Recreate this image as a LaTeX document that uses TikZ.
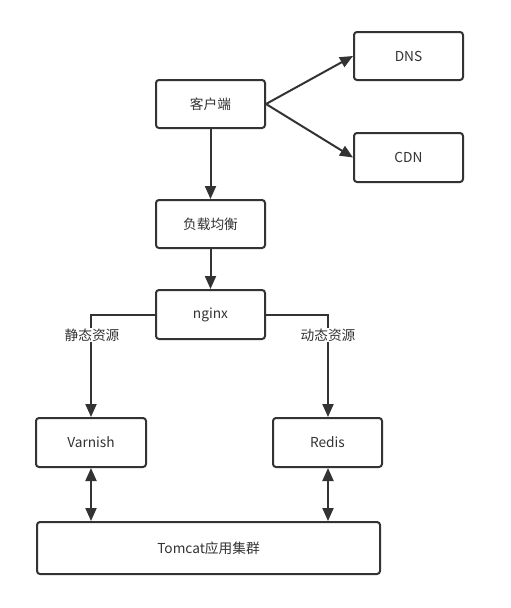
\documentclass[tikz,border=0pt]{standalone}
\usepackage{fontspec}
\setmainfont{Noto Sans CJK SC}
\usetikzlibrary{arrows.meta}
\definecolor{ink}{HTML}{333333}
\tikzset{
  boxnode/.style={draw=ink, line width=2pt, rounded corners=3pt, fill=white, text=ink, inner sep=0pt, font=\fontsize{13.7pt}{15pt}\selectfont},
  conn/.style={draw=ink, line width=2pt, -{Triangle[length=13pt,width=11pt]}},
  dconn/.style={draw=ink, line width=2pt, {Triangle[length=13pt,width=11pt]}-{Triangle[length=13pt,width=11pt]}},
  lbl/.style={fill=white, text=ink, inner sep=1pt, font=\fontsize{13.7pt}{15pt}\selectfont}
}
\begin{document}
\begin{tikzpicture}[x=1pt,y=-1pt]
\useasboundingbox (0,0) rectangle (511,608);
\node[boxnode, minimum width=109pt, minimum height=48pt] (client) at (210.5,104) {客户端};
\node[boxnode, minimum width=109pt, minimum height=48pt] (dns) at (408.5,56) {DNS};
\node[boxnode, minimum width=109pt, minimum height=49pt] (cdn) at (408.5,157.5) {CDN};
\node[boxnode, minimum width=109pt, minimum height=48pt] (lb) at (210.5,224) {负载均衡};
\node[boxnode, minimum width=109pt, minimum height=49pt] (nginx) at (210.5,314.5) {nginx};
\node[boxnode, minimum width=110pt, minimum height=49pt] (varnish) at (91,442.5) {Varnish};
\node[boxnode, minimum width=109pt, minimum height=49pt] (redis) at (327.5,442.5) {Redis};
\node[boxnode, minimum width=343pt, minimum height=52pt] (tomcat) at (208.5,548) {Tomcat应用集群};
\coordinate (lcorner) at (91,314.5);
\coordinate (rcorner) at (328,314.5);
\draw[conn] (client.east) -- (dns.west);
\draw[conn] (client.east) -- (cdn.west);
\draw[conn] (client.south) -- (lb.north);
\draw[conn] (lb.south) -- (nginx.north);
\draw[conn] (nginx.west) -- (lcorner) -- (varnish.north -| lcorner);
\draw[conn] (nginx.east) -- (rcorner) -- (redis.north -| rcorner);
\node[lbl] (static) at (92,335) {静态资源};
\node[lbl] (dynamic) at (328,335) {动态资源};
\draw[dconn] (varnish.south -| lcorner) -- (tomcat.north -| lcorner);
\draw[dconn] (redis.south -| rcorner) -- (tomcat.north -| rcorner);
\end{tikzpicture}
\end{document}
